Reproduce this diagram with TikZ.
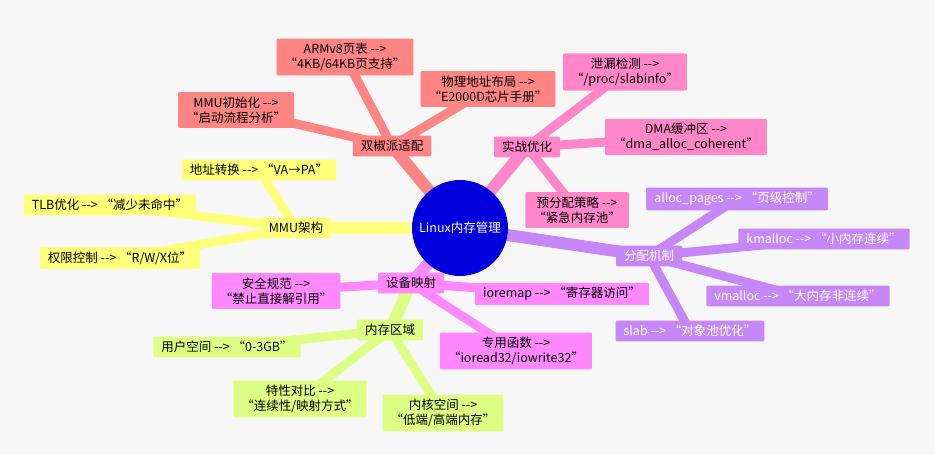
\documentclass[tikz,border=0pt]{standalone}
\usepackage{fontspec}
\setmainfont{Noto Sans CJK SC}
\usetikzlibrary{backgrounds}
\definecolor{redb}{HTML}{FF8484}
\definecolor{pinkb}{HTML}{FF86C8}
\definecolor{purpb}{HTML}{C688F8}
\definecolor{yelb}{HTML}{FFFF7A}
\definecolor{magb}{HTML}{FF88FF}
\definecolor{grnb}{HTML}{DCFF84}
\definecolor{rootb}{HTML}{0000DD}
\newcommand{\arr}{-{}->}
\begin{document}
\begin{tikzpicture}[x=1pt,y=-1pt,
  box/.style = {rounded corners=1pt, align=center, inner xsep=8pt, inner ysep=4.5pt, font=\fontsize{12.5}{15}\selectfont},
  edge/.style = {line width=9pt},
  trunk/.style = {line width=12pt}]
\useasboundingbox (0,0) rectangle (935,455);

\node[circle, fill=rootb, text=white, minimum size=96pt, font=\fontsize{12.5}{15}\selectfont] (root) at (460,228) {Linux内存管理};

\node[box, fill=redb] (dual) at (392,146) {双椒派适配};
\node[box, fill=redb] (armv8) at (345,57) {ARMv8页表 \arr\\“4KB/64KB页支持”};
\node[box, fill=redb] (phys) at (488,89) {物理地址布局 \arr\\“E2000D芯片手册”};
\node[box, fill=redb] (mmuinit) at (236,110) {MMU初始化 \arr\\“启动流程分析”};

\node[box, fill=pinkb] (prac) at (527,147) {实战优化};
\node[box, fill=pinkb] (leak) at (625,72) {泄漏检测 \arr\\“/proc/slabinfo”};
\node[box, fill=pinkb] (dma) at (686,137) {DMA缓冲区 \arr\\“dma\_alloc\_coherent”};
\node[box, fill=pinkb] (prealloc) at (577,210) {预分配策略 \arr\\“紧急内存池”};

\node[box, fill=purpb, text=white] (alloc) at (649,256) {分配机制};
\node[box, fill=purpb, text=white] (pages) at (737,199) {alloc\_pages \arr{} “页级控制”};
\node[box, fill=purpb, text=white] (kmal) at (824,239) {kmalloc \arr{} “小内存连续”};
\node[box, fill=purpb, text=white] (vmal) at (798,296) {vmalloc \arr{} “大内存非连续”};
\node[box, fill=purpb, text=white] (slab) at (690,331) {slab \arr{} “对象池优化”};

\node[box, fill=yelb] (mmu) at (296,228) {MMU架构};
\node[box, fill=yelb] (xlat) at (259,170) {地址转换 \arr{} “VA→PA”};
\node[box, fill=yelb] (tlb) at (110,205) {TLB优化 \arr{} “减少未命中”};
\node[box, fill=yelb] (perm) at (120,258) {权限控制 \arr{} “R/W/X位”};

\node[box, fill=magb] (devmap) at (411,283) {设备映射};
\node[box, fill=magb] (safe) at (276,291) {安全规范 \arr\\“禁止直接解引用”};
\node[box, fill=magb] (iorm) at (562,294) {ioremap \arr{} “寄存器访问”};
\node[box, fill=magb] (iofn) at (516,351) {专用函数 \arr\\“ioread32/iowrite32”};

\node[box, fill=grnb] (zone) at (390,330) {内存区域};
\node[box, fill=grnb] (user) at (227,347) {用户空间 \arr{} “0-3GB”};
\node[box, fill=grnb] (feat) at (300,399) {特性对比 \arr\\“连续性/映射方式”};
\node[box, fill=grnb] (kern) at (443,413) {内核空间 \arr\\“低端/高端内存”};

\begin{scope}[on background layer]
\fill[white!97!black] (0,0) rectangle (935,455);
\draw[trunk, redb] (root.center) -- (dual.center);
\draw[trunk, pinkb] (root.center) -- (prac.center);
\draw[trunk, purpb] (root.center) -- (alloc.center);
\draw[trunk, yelb] (root.center) -- (mmu.center);
\draw[trunk, magb] (root.center) -- (devmap.center);
\draw[trunk, grnb] (devmap.center) -- (zone.center);

\draw[edge, redb] (dual.center) -- (armv8.center);
\draw[edge, redb] (dual.center) -- (phys.center);
\draw[edge, redb] (dual.center) -- (mmuinit.center);
\draw[edge, pinkb] (prac.center) -- (leak.center);
\draw[edge, pinkb] (prac.center) -- (dma.center);
\draw[edge, pinkb] (prac.center) -- (prealloc.center);
\draw[edge, purpb] (alloc.center) -- (pages.center);
\draw[edge, purpb] (alloc.center) -- (kmal.center);
\draw[edge, purpb] (alloc.center) -- (vmal.center);
\draw[edge, purpb] (alloc.center) -- (slab.center);
\draw[edge, yelb] (mmu.center) -- (xlat.center);
\draw[edge, yelb] (mmu.center) -- (tlb.center);
\draw[edge, yelb] (mmu.center) -- (perm.center);
\draw[edge, magb] (devmap.center) -- (safe.center);
\draw[edge, magb] (devmap.center) -- (iorm.center);
\draw[edge, magb] (devmap.center) -- (iofn.center);
\draw[edge, grnb] (zone.center) -- (user.center);
\draw[edge, grnb] (zone.center) -- (feat.center);
\draw[edge, grnb] (zone.center) -- (kern.center);
\end{scope}
\end{tikzpicture}
\end{document}
